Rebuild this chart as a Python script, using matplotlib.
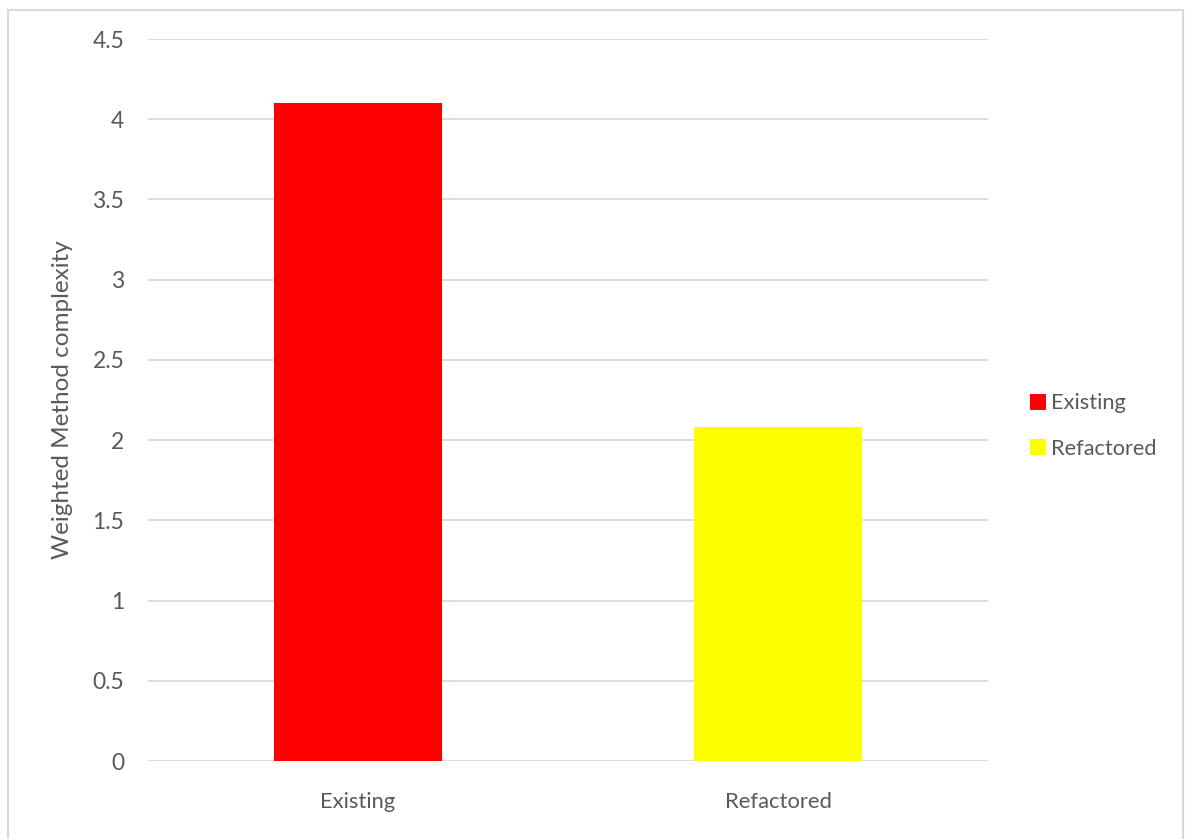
import matplotlib
matplotlib.use("Agg")
import matplotlib.pyplot as plt
from matplotlib.patches import Rectangle

categories = ["Existing", "Refactored"]
values = [4.10, 2.08]
colors = ["#FF0000", "#FFFF00"]
yticks = [0, 0.5, 1, 1.5, 2, 2.5, 3, 3.5, 4, 4.5]
ytick_labels = ["0", "0.5", "1", "1.5", "2", "2.5", "3", "3.5", "4", "4.5"]
ylabel = "Weighted Method complexity"

plt.rcParams['font.family'] = ['Lato', 'DejaVu Sans']
W, H = 1185, 839
fig = plt.figure(figsize=(W / 100, H / 100), dpi=100)
ax = fig.add_axes([148 / W, 1 - 761 / H, (988 - 148) / W, (761 - 39) / H])

x = range(len(categories))
for i, (c, v, col) in enumerate(zip(categories, values, colors)):
    ax.bar(i, v, width=0.4, color=col, label=c, zorder=3)

ax.set_xlim(-0.5, 1.5)
ax.set_ylim(0, 4.5)
ax.set_yticks(yticks)
ax.set_yticklabels(ytick_labels, fontsize=16.5)
ax.set_xticks(list(x))
ax.set_xticklabels(categories, fontsize=15.8)
ax.grid(axis='y', color='#D9D9D9', linewidth=1.3, zorder=0)
for s in ax.spines.values():
    s.set_visible(False)
ax.tick_params(axis='both', length=0, colors='#595959')
ax.tick_params(axis='y', pad=17)
ax.tick_params(axis='x', pad=22)
ax.set_ylabel(ylabel, fontsize=17.5, color='#595959', labelpad=14)

leg = fig.legend(loc='center left', bbox_to_anchor=(1010 / W, 1 - 426 / H),
                 frameon=False, fontsize=15.7, handlelength=0.75, handleheight=0.75,
                 handletextpad=0.25, labelspacing=1.15)
for t in leg.get_texts():
    t.set_color('#595959')

fig.patches.append(Rectangle((8 / W, -0.01), (1183 - 8) / W, 1 - 10 / H + 0.01,
                             transform=fig.transFigure, fill=False,
                             edgecolor='#D9D9D9', linewidth=1.5))

fig.savefig("out.png", dpi=100)
